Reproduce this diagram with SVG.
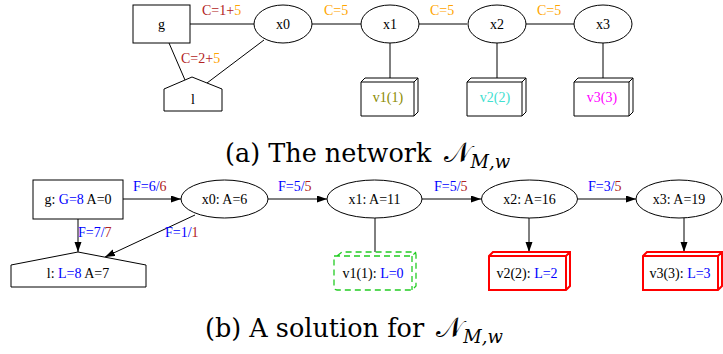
<svg xmlns="http://www.w3.org/2000/svg" width="723" height="354" viewBox="0 0 723 354">
<style>
text{font-family:"Liberation Serif","Times New Roman",serif;font-size:14px;fill:#000}
.c{text-anchor:middle}
.n{fill:#fff;stroke:#000;stroke-width:1}
.e{stroke:#000;stroke-width:1;fill:none}
.a{marker-end:url(#ah)}
.dr{fill:#b22222}
.or{fill:#ffa500}
.bl{fill:#0000ff}
.ol{fill:#8b8b00}
.tq{fill:#40e0d0}
.mg{fill:#ff00ff}
.cap{font-family:"DejaVu Serif","Liberation Serif",serif;font-size:25.5px}
.cal{font-size:28px}
.sub{font-family:"DejaVu Serif","Liberation Serif",serif;font-size:18px;font-style:italic}
.red{fill:#fff;stroke:#ff0000;stroke-width:2}
.grn{fill:none;stroke:#22cc22;stroke-width:1.3;stroke-dasharray:6,4}
</style>
<defs>
<marker id="ah" markerUnits="userSpaceOnUse" markerWidth="10" markerHeight="8" refX="10" refY="3.5" orient="auto">
<path d="M0,0 L10,3.5 L0,7 z" fill="#000"/>
</marker>
</defs>
<rect width="723" height="354" fill="#fff"/>

<!-- (a) connectors -->
<g id="edges-a">
<line class="e" x1="190" y1="24" x2="254" y2="24"/>
<line class="e" x1="312" y1="24" x2="361" y2="24"/>
<line class="e" x1="419" y1="24" x2="467" y2="24"/>
<line class="e" x1="526" y1="24" x2="574" y2="24"/>
<line class="e" x1="169" y1="43" x2="185" y2="80"/>
<line class="e" x1="264" y1="40" x2="207" y2="83"/>
<line class="e" x1="390" y1="43" x2="390" y2="78"/>
<line class="e" x1="497" y1="43" x2="497" y2="78"/>
<line class="e" x1="603" y1="43" x2="603" y2="78"/>
<text x="202" y="15"><tspan class="dr">C=1+</tspan><tspan class="or">5</tspan></text>
<text x="181" y="63"><tspan class="dr">C=2+</tspan><tspan class="or">5</tspan></text>
<text x="324" y="15" class="or">C=5</text>
<text x="430" y="15" class="or">C=5</text>
<text x="537" y="15" class="or">C=5</text>
</g>

<!-- (a) nodes -->
<g id="a-g"><rect class="n" x="133" y="5" width="57" height="38"/><text class="c" x="161.5" y="29">g</text></g>
<g id="a-x0"><ellipse class="n" cx="283" cy="24" rx="29" ry="19"/><text class="c" x="283" y="29">x0</text></g>
<g id="a-x1"><ellipse class="n" cx="390" cy="24" rx="29" ry="19"/><text class="c" x="390" y="29">x1</text></g>
<g id="a-x2"><ellipse class="n" cx="497" cy="24" rx="29" ry="19"/><text class="c" x="497" y="29">x2</text></g>
<g id="a-x3"><ellipse class="n" cx="603" cy="24" rx="29" ry="19"/><text class="c" x="603" y="29">x3</text></g>
<g id="a-l"><polygon class="n" points="164,111 164,89 192,77 222,89 222,111"/><text class="c" x="193" y="104">l</text></g>
<g id="a-v1"><path class="n" d="M361,82 L365,78 L418,78 L418,112 L414,116 L361,116 Z M361,82 L414,82 L418,78 M414,82 L414,116"/><text class="c ol" x="388" y="102">v1(1)</text></g>
<g id="a-v2"><path class="n" d="M467,82 L471,78 L526,78 L526,112 L522,116 L467,116 Z M467,82 L522,82 L526,78 M522,82 L522,116"/><text class="c tq" x="495" y="102">v2(2)</text></g>
<g id="a-v3"><path class="n" d="M574,82 L578,78 L633,78 L633,112 L629,116 L574,116 Z M574,82 L629,82 L633,78 M629,82 L629,116"/><text class="c mg" x="602" y="102">v3(3)</text></g>

<text class="cap" x="225" y="162">(a) The network <tspan class="cal" dx="4">𝒩</tspan><tspan class="sub" dy="6">M,w</tspan></text>

<!-- (b) connectors -->
<g id="edges-b">
<line class="e a" x1="123" y1="199" x2="181" y2="199"/>
<line class="e a" x1="268" y1="199" x2="327" y2="199"/>
<line class="e a" x1="422" y1="199" x2="481" y2="199"/>
<line class="e a" x1="578" y1="199" x2="636" y2="199"/>
<line class="e a" x1="78" y1="219" x2="78" y2="252"/>
<line class="e a" x1="195" y1="215" x2="105" y2="257"/>
<line class="e" x1="375" y1="218" x2="375" y2="252"/>
<line class="e a" x1="529" y1="218" x2="529" y2="252"/>
<line class="e a" x1="684" y1="218" x2="684" y2="252"/>
<text x="133" y="191"><tspan class="bl">F=6/</tspan><tspan class="dr">6</tspan></text>
<text x="278" y="191"><tspan class="bl">F=5/</tspan><tspan class="dr">5</tspan></text>
<text x="434" y="191"><tspan class="bl">F=5/</tspan><tspan class="dr">5</tspan></text>
<text x="588" y="191"><tspan class="bl">F=3/</tspan><tspan class="dr">5</tspan></text>
<text x="78" y="237"><tspan class="bl">F=7/</tspan><tspan class="dr">7</tspan></text>
<text x="165" y="237"><tspan class="bl">F=1/</tspan><tspan class="dr">1</tspan></text>
</g>

<!-- (b) nodes -->
<g id="b-g"><rect class="n" x="33" y="180" width="90" height="39"/><text class="c" x="78" y="204">g: <tspan class="bl">G=8</tspan> A=0</text></g>
<g id="b-x0"><ellipse class="n" cx="224.5" cy="199" rx="43.5" ry="19"/><text class="c" x="224.5" y="204">x0: A=6</text></g>
<g id="b-x1"><ellipse class="n" cx="374.5" cy="199" rx="47.5" ry="19"/><text class="c" x="374.5" y="204">x1: A=11</text></g>
<g id="b-x2"><ellipse class="n" cx="529.5" cy="199" rx="48" ry="19"/><text class="c" x="529.5" y="204">x2: A=16</text></g>
<g id="b-x3"><ellipse class="n" cx="679" cy="199" rx="43" ry="19"/><text class="c" x="679" y="204">x3: A=19</text></g>
<g id="b-l"><polygon class="n" points="11,287 11,265 78,252 146,265 146,287"/><text class="c" x="78" y="278">l: <tspan class="bl">L=8</tspan> A=7</text></g>
<g id="b-v1"><path class="grn" d="M337,256 L342,252 L413,252 Q416,252 416,255 L416,286 L412,290 L337,290 Q334,290 334,287 L334,259 Q334,256 337,256 Z M334,256 L412,256 L416,252 M412,256 L412,290"/><text class="c" x="373" y="278">v1(1): <tspan class="bl">L=0</tspan></text></g>
<g id="b-v2"><path class="red" d="M489,256 L493,252 L570,252 L570,286 L566,290 L489,290 Z M489,256 L566,256 L570,252 M566,256 L566,290"/><text class="c" x="527" y="278">v2(2): <tspan class="bl">L=2</tspan></text></g>
<g id="b-v3"><path class="red" d="M643,256 L647,252 L722,252 L722,286 L718,290 L643,290 Z M643,256 L718,256 L722,252 M718,256 L718,290"/><text class="c" x="680" y="278">v3(3): <tspan class="bl">L=3</tspan></text></g>

<text class="cap" x="205" y="337">(b) A solution for <tspan class="cal" dx="4">𝒩</tspan><tspan class="sub" dy="6">M,w</tspan></text>
</svg>
